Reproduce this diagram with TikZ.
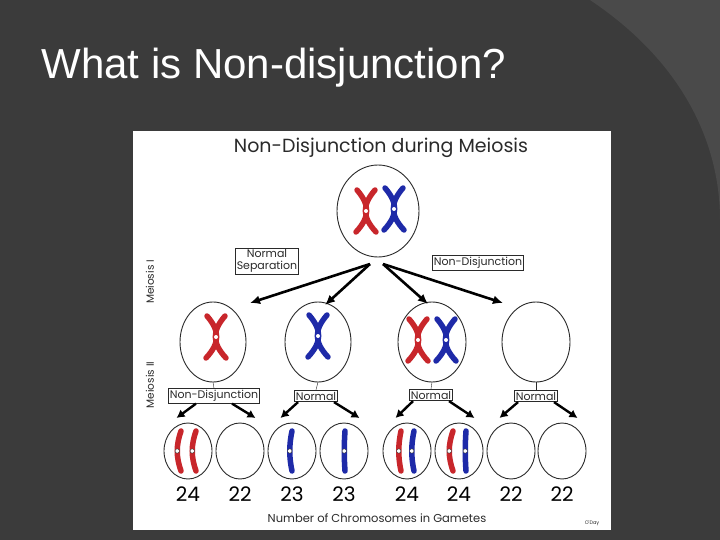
\documentclass[tikz,border=0pt]{standalone}
\usepackage{fontspec}
\setmainfont{Liberation Sans}
\newfontfamily\gfont{Poppins}
\definecolor{bg}{HTML}{3B3B3B}
\definecolor{bgl}{HTML}{4A4A4A}
\definecolor{cred}{HTML}{C8262B}
\definecolor{cblue}{HTML}{1E2AA8}
\definecolor{ink}{HTML}{2A2A2A}
\tikzset{
  cell/.style={draw=ink,line width=0.9pt},
  lbl/.style={draw=ink,line width=1pt,fill=white,font=\gfont\fontsize{11}{12}\selectfont,text=ink,inner sep=1.5pt},
  arr/.style={-{Latex[length=10pt,width=9pt]},line width=2.6pt,black},
  chr/.style={line width=5.5pt,line cap=round},
  num/.style={font=\gfont\fontsize{20}{22}\selectfont,text=black},
}
\usetikzlibrary{arrows.meta}
\newcommand\chrX[3]{% x y color
 \begin{scope}[shift={(#1,#2)}]
 \draw[chr,#3] (-9,-21) .. controls (4,-6) and (4,6) .. (-10,21);
 \draw[chr,#3] (9,-21) .. controls (-4,-6) and (-4,6) .. (10,21);
 \fill[white] (0,0) circle (2);
 \end{scope}}
\newcommand\chrI[4]{% x y color bend
 \begin{scope}[shift={(#1,#2)}]
 \draw[chr,#3] (0,-20) .. controls (#4,-6) and (#4,6) .. (0,20);
 \fill[white] (#4*0.75,0) circle (2.2);
 \draw[ink,line width=0.4pt] (#4*0.75,0) circle (2.2);
 \end{scope}}
\begin{document}
\begin{tikzpicture}[x=1pt,y=-1pt]
\useasboundingbox (0,0) rectangle (720,540);
\fill[bg] (0,0) rectangle (720,540);
\fill[bgl] (590,0) .. controls (680,60) and (720,140) .. (720,220) -- (720,0) -- cycle;
\node[anchor=west,text=white,font=\fontsize{42}{46}\selectfont] (title) at (38,68) {What is Non-disjunction?};
\fill[white] (133,131) rectangle (611,530);
\node[font=\gfont\fontsize{19}{21}\selectfont,text=ink] (ptitle) at (381,148) {Non-Disjunction during Meiosis};
\node[rotate=90,font=\gfont\fontsize{10.5}{12}\selectfont,text=ink] (m1) at (150,282) {Meiosis I};
\node[rotate=90,font=\gfont\fontsize{10.5}{12}\selectfont,text=ink] (m2) at (150,385) {Meiosis II};
% top
\draw[cell] (378,211) ellipse (41 and 46);
\chrX{366}{211}{cred}
\chrX{394}{209}{cblue}
\node[lbl,align=center] (ns) at (267,261) {Normal\\Separation};
\node[lbl] (nd) at (478,263) {Non-Disjunction};
\coordinate (s1) at (370,264);
\coordinate (s2) at (383,264);
% row2
\draw[cell] (213,342) ellipse (33 and 40);
\draw[cell] (318,342) ellipse (33 and 40);
\draw[cell] (432,342) ellipse (34 and 40);
\draw[cell] (536,342) ellipse (34 and 40);
\chrX{216}{337}{cred}
\chrX{318}{336}{cblue}
\chrX{418}{340}{cred}
\chrX{446}{340}{cblue}
\coordinate (a1) at (250,303);
\coordinate (a2) at (325,305);
\coordinate (a3) at (428,304);
\coordinate (a4) at (503,303);
\draw[arr] (s1) -- (a1);
\draw[arr] (s1) -- (a2);
\draw[arr] (s2) -- (a3);
\draw[arr] (s2) -- (a4);
\node[lbl] (l1) at (214,396) {Non-Disjunction};
\node[lbl] (l2) at (316,396) {Normal};
\node[lbl] (l3) at (431,395) {Normal};
\node[lbl] (l4) at (536,396) {Normal};
\foreach \x/\n in {213/l1,318/l2,432/l3,536/l4}{\draw[ink] (\x,382) -- (\n.north);}
% bottom
\foreach \x/\n/\k in {188/24/b1,240/22/b2,292/23/b3,344/23/b4,407/24/b5,459/24/b6,511/22/b7,562/22/b8}{
 \draw[cell] (\x,451) ellipse (24 and 28);
 \node[num] (\k) at (\x,494) {\n};
 \coordinate (t\k) at (\x+2,418);
}
\foreach \s/\t/\d in {l1/b1/-18,l1/b2/18,l2/b3/-18,l2/b4/18,l3/b5/-18,l3/b6/18,l4/b7/-18,l4/b8/18}{
 \draw[arr,line width=2.4pt,-{Latex[length=8pt,width=9pt]}] ([xshift=\d pt]\s.south) -- ([xshift=\d pt*0.75]t\t);
}
\chrI{181}{451}{cred}{-5}
\chrI{196}{451}{cred}{-5}
\chrI{292}{451}{cblue}{-3}
\chrI{345}{451}{cblue}{-1}
\chrI{401}{451}{cred}{-3}
\chrI{414}{451}{cblue}{-3}
\chrI{453}{451}{cred}{-5}
\chrI{466}{451}{cblue}{-1}
\node[font=\gfont\fontsize{11.5}{13}\selectfont,text=ink] (foot) at (377,518) {Number of Chromosomes in Gametes};
\node[font=\gfont\fontsize{5}{6}\selectfont,text=ink] (oday) at (592,523) {O'Day};
\end{tikzpicture}
\end{document}
